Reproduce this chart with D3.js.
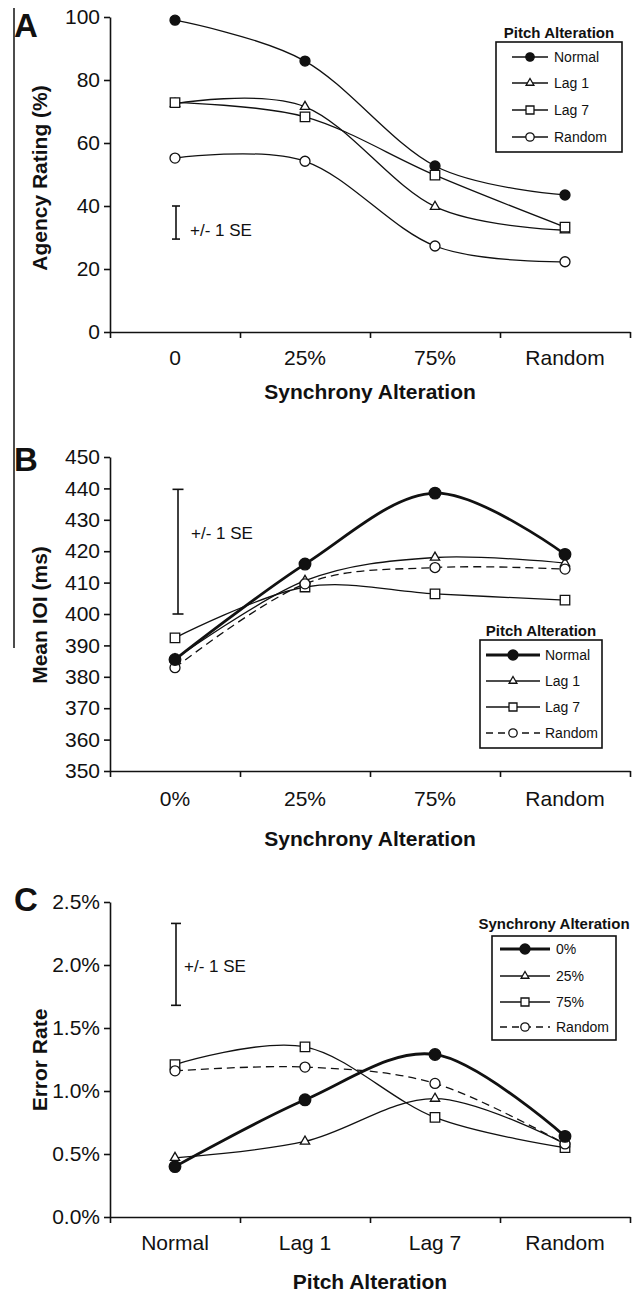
<!DOCTYPE html>
<html>
<head>
<meta charset="utf-8">
<script src="https://cdn.jsdelivr.net/npm/d3@7"></script>
<style>
  body { margin: 0; background: #fff; }
  text { font-family: "Liberation Sans", Arial, sans-serif; fill: #111; }
</style>
</head>
<body>
<svg id="chart" width="634" height="1294"></svg>
<script>
// categories
const syncCatsA = ["0", "25%", "75%", "Random"];
const syncCatsB = ["0%", "25%", "75%", "Random"];
const pitchCats = ["Normal", "Lag 1", "Lag 7", "Random"];
const pitchNames = ["Normal", "Lag 1", "Lag 7", "Random"];
const syncNames = ["0%", "25%", "75%", "Random"];

// panel A - agency rating (%)
const agencyNormal = [99, 86, 52.7, 43.5];
const agencyLag1 = [72.5, 71.5, 39.8, 32.3];
const agencyLag7 = [72.8, 68.3, 49.8, 33.3];
const agencyRandom = [55.2, 54.2, 27.3, 22.3];
const agencyTicks = [0, 20, 40, 60, 80, 100];
const agencySE = [29.5, 40];

// panel B - mean IOI (ms)
const ioiNormal = [385.5, 415.9, 438.5, 419];
const ioiLag1 = [385.6, 410.6, 418, 416.2];
const ioiLag7 = [392.4, 408.6, 406.4, 404.4];
const ioiRandom = [382.9, 409.6, 414.8, 414.3];
const ioiTicks = [350, 360, 370, 380, 390, 400, 410, 420, 430, 440, 450];
const ioiSE = [400, 439.7];

// panel C - error rate
const err0 = [0.0040, 0.0093, 0.0129, 0.0064];
const err25 = [0.0047, 0.0060, 0.0094, 0.0058];
const err75 = [0.0121, 0.0135, 0.0079, 0.0055];
const errRandom = [0.0116, 0.0119, 0.0106, 0.0058];
const errTicks = [0, 0.005, 0.01, 0.015, 0.02, 0.025];
const errSE = [0.0168, 0.0233];

const svg = d3.select("#chart");
const ink = "#111";
const xLeft = 110, xRight = 630;

// marker style per series slot: filled circle, triangle, square, open circle
const shapes = ["dot", "tri", "square", "ring"];

function drawMarker(g, shape, cx, cy, s) {
    if (shape === "dot" || shape === "ring") {
        g.append("circle")
            .attr("cx", cx).attr("cy", cy).attr("r", s)
            .attr("fill", shape === "dot" ? ink : "#fff")
            .attr("stroke", ink).attr("stroke-width", 1.3);
    } else {
        const sym = shape === "tri" ? d3.symbolTriangle : d3.symbolSquare;
        const size = shape === "tri" ? s * s * 1.5 : s * s * 3.6;
        g.append("path")
            .attr("d", d3.symbol().type(sym).size(size)())
            .attr("transform", `translate(${cx},${cy})`)
            .attr("fill", "#fff")
            .attr("stroke", ink).attr("stroke-width", 1.3);
    }
}

function drawPanel(cfg) {
    const g = svg.append("g");
    const x = d3.scaleBand().domain(cfg.cats).range([xLeft, xRight]);
    const xEdge = d3.scaleLinear().domain([0, cfg.cats.length]).range([xLeft, xRight]);
    const y = d3.scaleLinear().domain(cfg.yDomain).range([cfg.yBottom, cfg.yTop]);
    const cx = c => x(c) + x.bandwidth() / 2;

    // x axis line + boundary ticks
    g.append("g")
        .attr("transform", `translate(0,${cfg.yBottom})`)
        .call(d3.axisBottom(xEdge).tickValues(d3.range(cfg.cats.length + 1))
            .tickFormat("").tickSize(6).tickSizeOuter(0))
        .call(a => a.selectAll("path,line").attr("stroke", ink).attr("stroke-width", 1.6));

    // category labels
    g.append("g")
        .attr("transform", `translate(0,${cfg.yBottom})`)
        .call(d3.axisBottom(x).tickSize(0).tickPadding(cfg.labelPad))
        .call(a => a.select(".domain").remove())
        .call(a => a.selectAll("text").attr("font-size", 21).attr("fill", ink)
            .style("font-family", '"Liberation Sans", Arial, sans-serif'));

    // y axis
    g.append("g")
        .attr("transform", `translate(${xLeft},0)`)
        .call(d3.axisLeft(y).tickValues(cfg.ticks).tickFormat(cfg.fmt)
            .tickSize(6).tickSizeOuter(0).tickPadding(4))
        .call(a => a.selectAll("path,line").attr("stroke", ink).attr("stroke-width", 1.6))
        .call(a => a.selectAll("text").attr("font-size", 21).attr("fill", ink)
            .style("font-family", '"Liberation Sans", Arial, sans-serif'));

    // titles
    g.append("text")
        .attr("x", (xLeft + xRight) / 2).attr("y", cfg.xTitleY)
        .attr("text-anchor", "middle").attr("font-size", 21).attr("font-weight", "bold")
        .text(cfg.xTitle);
    g.append("text")
        .attr("transform", `translate(47,${cfg.yTitleY}) rotate(-90)`)
        .attr("text-anchor", "middle").attr("font-size", 21).attr("font-weight", "bold")
        .text(cfg.yTitle);
    g.append("text")
        .attr("x", 14).attr("y", cfg.letterY)
        .attr("font-size", 33).attr("font-weight", "bold")
        .text(cfg.letter);

    // SE bar
    const seX = cfg.seX;
    const se = g.append("g").attr("stroke", ink).attr("stroke-width", 1.6);
    se.append("line").attr("x1", seX).attr("x2", seX)
        .attr("y1", y(cfg.se[0])).attr("y2", y(cfg.se[1]));
    cfg.se.forEach(v => se.append("line")
        .attr("x1", seX - cfg.seCap).attr("x2", seX + cfg.seCap)
        .attr("y1", y(v)).attr("y2", y(v)));
    g.append("text")
        .attr("x", cfg.seTextX).attr("y", cfg.seTextY)
        .attr("font-size", 17).text("+/- 1 SE");

    // series
    const line = d3.line()
        .x((d, i) => cx(cfg.cats[i]))
        .y(d => y(d))
        .curve(d3.curveCardinal.tension(0));

    cfg.order.forEach(k => {
        const vals = cfg.series[k];
        const st = cfg.styles[k];
        g.append("path")
            .attr("d", line(vals))
            .attr("fill", "none")
            .attr("stroke", ink)
            .attr("stroke-width", st.thick ? 2.8 : 1.3)
            .attr("stroke-dasharray", st.dashed ? "8,5" : null);
        vals.forEach((v, i) => drawMarker(g, shapes[k], cx(cfg.cats[i]), y(v), st.thick ? 5.8 : 5));
    });

    // legend
    const L = cfg.legend;
    g.append("text")
        .attr("x", (L.x0 + L.x1) / 2).attr("y", L.titleY)
        .attr("text-anchor", "middle").attr("font-size", 15).attr("font-weight", "bold")
        .text(L.title);
    g.append("rect")
        .attr("x", L.x0).attr("y", L.y0)
        .attr("width", L.x1 - L.x0).attr("height", L.y1 - L.y0)
        .attr("fill", "#fff").attr("stroke", ink).attr("stroke-width", 1.6);
    L.names.forEach((name, k) => {
        const st = cfg.styles[k];
        const ly = L.rows[k];
        g.append("line")
            .attr("x1", L.lx0).attr("x2", L.lx1).attr("y1", ly).attr("y2", ly)
            .attr("stroke", ink)
            .attr("stroke-width", st.thick ? 2.8 : 1.3)
            .attr("stroke-dasharray", st.dashed ? "7,5" : null);
        drawMarker(g, shapes[k], (L.lx0 + L.lx1) / 2, ly, st.thick ? 5 : 4.2);
        g.append("text")
            .attr("x", L.tx).attr("y", ly + 5)
            .attr("font-size", 14).text(name);
    });
}

// stray frame line on the left of the figure
svg.append("line")
    .attr("x1", 14).attr("x2", 14).attr("y1", 8).attr("y2", 648)
    .attr("stroke", ink).attr("stroke-width", 1.5);

const thinStyles = [{}, {}, {}, {}];
const mixedStyles = [{ thick: true }, {}, {}, { dashed: true }];

drawPanel({
    letter: "A", letterY: 37,
    cats: syncCatsA, yDomain: [0, 100], yBottom: 332, yTop: 17,
    ticks: agencyTicks, fmt: d3.format("d"), labelPad: 18,
    xTitle: "Synchrony Alteration", xTitleY: 399,
    yTitle: "Agency Rating (%)", yTitleY: 178,
    se: agencySE, seX: 176, seCap: 4, seTextX: 190, seTextY: 236,
    series: [agencyNormal, agencyLag1, agencyLag7, agencyRandom],
    styles: thinStyles, order: [0, 1, 2, 3],
    legend: {
        title: "Pitch Alteration", titleY: 38, names: pitchNames,
        x0: 496, x1: 622, y0: 42, y1: 152,
        rows: [57, 83, 110, 137], lx0: 512, lx1: 548, tx: 554
    }
});

drawPanel({
    letter: "B", letterY: 471,
    cats: syncCatsB, yDomain: [350, 450], yBottom: 771, yTop: 457,
    ticks: ioiTicks, fmt: d3.format("d"), labelPad: 20,
    xTitle: "Synchrony Alteration", xTitleY: 846,
    yTitle: "Mean IOI (ms)", yTitleY: 615,
    se: ioiSE, seX: 178, seCap: 5.5, seTextX: 191, seTextY: 539,
    series: [ioiNormal, ioiLag1, ioiLag7, ioiRandom],
    styles: mixedStyles, order: [1, 2, 3, 0],
    legend: {
        title: "Pitch Alteration", titleY: 636, names: pitchNames,
        x0: 480, x1: 602, y0: 640, y1: 748,
        rows: [655, 681, 707, 733], lx0: 486, lx1: 540, tx: 545
    }
});

drawPanel({
    letter: "C", letterY: 911,
    cats: pitchCats, yDomain: [0, 0.025], yBottom: 1217, yTop: 902,
    ticks: errTicks, fmt: d3.format(".1%"), labelPad: 18,
    xTitle: "Pitch Alteration", xTitleY: 1289,
    yTitle: "Error Rate", yTitleY: 1060,
    se: errSE, seX: 176, seCap: 5, seTextX: 184, seTextY: 972,
    series: [err0, err25, err75, errRandom],
    styles: mixedStyles, order: [1, 2, 3, 0],
    legend: {
        title: "Synchrony Alteration", titleY: 929, names: syncNames,
        x0: 492, x1: 616, y0: 936, y1: 1040,
        rows: [949, 976, 1002, 1027], lx0: 500, lx1: 550, tx: 556
    }
});
</script>
</body>
</html>
